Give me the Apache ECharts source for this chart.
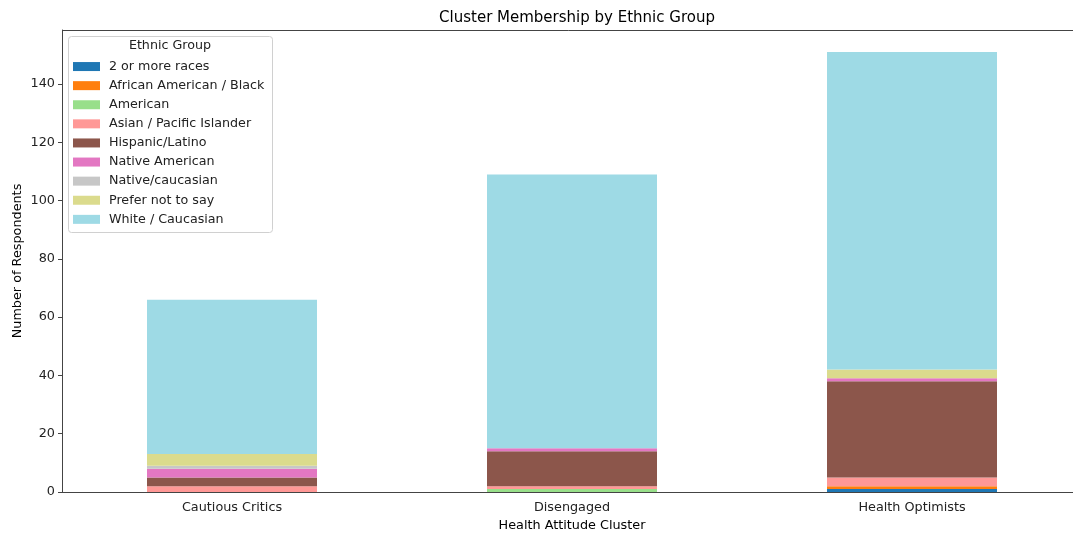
<!DOCTYPE html>
<html>
<head>
<meta charset="utf-8">
<script src="https://cdn.jsdelivr.net/npm/echarts@6/dist/echarts.min.js"></script>
<style>
  html, body { margin: 0; padding: 0; background: #fff; }
  #chart { width: 1073px; height: 533px; }
</style>
</head>
<body>
<div id="chart"></div>
<script>
// Health attitude clusters along the x axis
const clusters = ['Cautious Critics', 'Disengaged', 'Health Optimists'];

// Respondent counts per ethnic group, one value per cluster
const groupNames = [
  '2 or more races',
  'African American / Black',
  'American',
  'Asian / Pacific Islander',
  'Hispanic/Latino',
  'Native American',
  'Native/caucasian',
  'Prefer not to say',
  'White / Caucasian'
];
const twoOrMore       = [0, 0, 1];
const africanAmerican = [0, 0, 1];
const american        = [0, 1, 0];
const asianPacific    = [2, 1, 3];
const hispanicLatino  = [3, 12, 33];
const nativeAmerican  = [3, 1, 1];
const nativeCaucasian = [1, 0, 0];
const preferNotToSay  = [4, 0, 3];
const whiteCaucasian  = [53, 94, 109];

const groupValues = [
  twoOrMore, africanAmerican, american, asianPacific, hispanicLatino,
  nativeAmerican, nativeCaucasian, preferNotToSay, whiteCaucasian
];

const groupColors = [
  '#1f77b4', '#ff7f0e', '#98df8a', '#ff9896', '#8c564b',
  '#e377c2', '#c7c7c7', '#dbdb8d', '#9edae5'
];

// Y axis tick labels
const yTicks = [0, 20, 40, 60, 80, 100, 120, 140];

const FONT = 'DejaVu Sans';
const GRID = { left: 62, top: 30, width: 1020, height: 462 };

const chart = echarts.init(document.getElementById('chart'), null, { renderer: 'canvas' });

const series = groupNames.map((name, i) => ({
  name: name,
  type: 'bar',
  stack: 'total',
  barWidth: '50%',
  data: groupValues[i],
  itemStyle: { color: groupColors[i] },
  emphasis: { disabled: true },
  animation: false
}));

chart.setOption({
  animation: false,
  backgroundColor: '#fff',
  title: {
    text: 'Cluster Membership by Ethnic Group',
    left: 572,
    textAlign: 'center',
    top: 6,
    textStyle: { fontFamily: FONT, fontSize: 15, fontWeight: 'normal', color: '#000' }
  },
  grid: Object.assign({ containLabel: false, outerBoundsMode: 'none' }, GRID),
  xAxis: {
    type: 'category',
    data: clusters,
    name: 'Health Attitude Cluster',
    nameLocation: 'middle',
    nameGap: 26,
    nameTextStyle: { fontFamily: FONT, fontSize: 12.8, color: '#000' },
    axisLine: { lineStyle: { color: '#444', width: 1 } },
    axisTick: { alignWithLabel: true, length: 4, lineStyle: { color: '#444' } },
    axisLabel: { fontFamily: FONT, fontSize: 12.8, color: '#222', margin: 9 }
  },
  yAxis: {
    type: 'value',
    min: 0,
    max: 158.55,
    interval: 20,
    name: 'Number of Respondents',
    nameLocation: 'middle',
    nameGap: 38,
    nameMoveOverlap: false,
    nameTextStyle: { fontFamily: FONT, fontSize: 12.8, color: '#000' },
    axisLine: { show: true, lineStyle: { color: '#444', width: 1 } },
    axisTick: { show: true, length: 4, lineStyle: { color: '#444' }, customValues: yTicks },
    axisLabel: { fontFamily: FONT, fontSize: 12.8, color: '#222', margin: 7, customValues: yTicks },
    splitLine: { show: false }
  },
  legend: {
    orient: 'vertical',
    left: 73,
    top: 57,
    padding: 0,
    itemGap: 0,
    itemWidth: 27,
    itemHeight: 9,
    icon: 'rect',
    selectedMode: false,
    data: groupNames,
    textStyle: { fontFamily: FONT, fontSize: 12.7, color: '#222', lineHeight: 19.1, padding: [0, 0, 0, 4] }
  },
  graphic: [
    {
      type: 'rect',
      z: -1,
      shape: { x: GRID.left + 0.5, y: GRID.top + 0.5, width: GRID.width, height: GRID.height },
      style: { fill: null, stroke: '#444', lineWidth: 1 },
      silent: true
    },
    {
      type: 'rect',
      z: 0,
      shape: { x: 68.5, y: 36.5, width: 204, height: 196, r: 3 },
      style: { fill: 'rgba(255,255,255,0.8)', stroke: '#d0d0d0', lineWidth: 1 },
      silent: true
    },
    {
      type: 'text',
      z: 1,
      x: 170,
      y: 46,
      style: {
        text: 'Ethnic Group',
        fontFamily: FONT,
        fontSize: 12.7,
        fill: '#222',
        align: 'center',
        verticalAlign: 'middle'
      },
      silent: true
    }
  ],
  series: series
});
</script>
</body>
</html>
